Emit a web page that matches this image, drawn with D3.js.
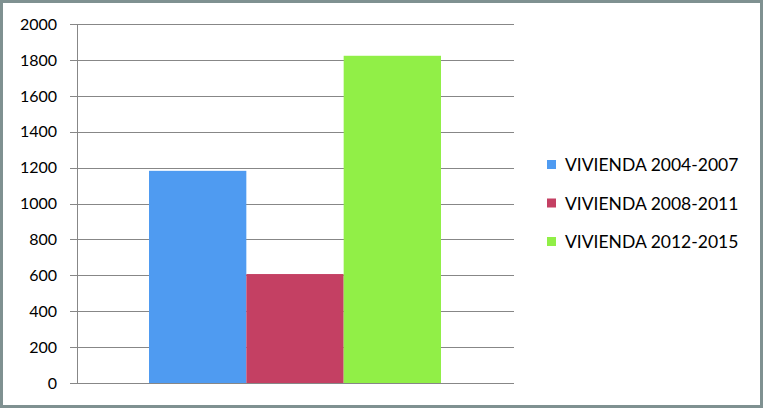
<!DOCTYPE html>
<html>
<head>
<meta charset="utf-8">
<script src="https://cdn.jsdelivr.net/npm/d3@7"></script>
<style>
  html, body { margin: 0; padding: 0; background: #fff; }
  svg { display: block; }
  text { font-family: Lato, "Open Sans", sans-serif; fill: #000; }
</style>
</head>
<body>
<svg id="chart" width="763" height="408"></svg>
<script>
// data
const series = ["VIVIENDA 2004-2007", "VIVIENDA 2008-2011", "VIVIENDA 2012-2015"];
const values = [1182, 607, 1823];
const colors = ["#4f9bf1", "#c44063", "#91ef47"];
const yTicks = [0, 200, 400, 600, 800, 1000, 1200, 1400, 1600, 1800, 2000];

const svg = d3.select("#chart");

// outer frame
svg.append("rect")
  .attr("x", 1.5).attr("y", 1.5)
  .attr("width", 760).attr("height", 405)
  .attr("fill", "#fff")
  .attr("stroke", "#7f9191")
  .attr("stroke-width", 3);

const plot = { left: 77, right: 514, top: 24, bottom: 383 };

const y = d3.scaleLinear().domain([0, 2000]).range([plot.bottom, plot.top]);
const x = d3.scaleBand().domain(series)
  .range([149, 441]).paddingInner(0).paddingOuter(0);

// gridlines
svg.append("g")
  .selectAll("line")
  .data(yTicks)
  .join("line")
  .attr("x1", plot.left - 7).attr("x2", plot.right)
  .attr("y1", d => Math.round(y(d)) + 0.5)
  .attr("y2", d => Math.round(y(d)) + 0.5)
  .attr("stroke", "#878787")
  .attr("stroke-width", 1);

// y axis line
svg.append("line")
  .attr("x1", plot.left + 0.5).attr("x2", plot.left + 0.5)
  .attr("y1", plot.top).attr("y2", plot.bottom)
  .attr("stroke", "#878787");

// tick labels
svg.append("g")
  .selectAll("text")
  .data(yTicks)
  .join("text")
  .attr("x", 57)
  .attr("y", d => y(d))
  .attr("dy", "0.36em")
  .attr("text-anchor", "end")
  .style("font-size", "16px")
  .text(d => d);

// bars
svg.append("g")
  .selectAll("rect")
  .data(values)
  .join("rect")
  .attr("x", (d, i) => x(series[i]))
  .attr("width", x.bandwidth())
  .attr("y", d => y(d))
  .attr("height", d => y(0) - y(d))
  .attr("fill", (d, i) => colors[i]);

// legend
const legend = svg.append("g")
  .selectAll("g")
  .data(series)
  .join("g")
  .attr("transform", (d, i) => `translate(547, ${165 + i * 38.5})`);

legend.append("rect")
  .attr("x", 0).attr("y", -5)
  .attr("width", 9).attr("height", 9)
  .attr("fill", (d, i) => colors[i]);

legend.append("text")
  .attr("x", 18)
  .attr("y", 0)
  .attr("dy", "0.36em")
  .style("font-size", "17.5px")
  .text(d => d);
</script>
</body>
</html>
